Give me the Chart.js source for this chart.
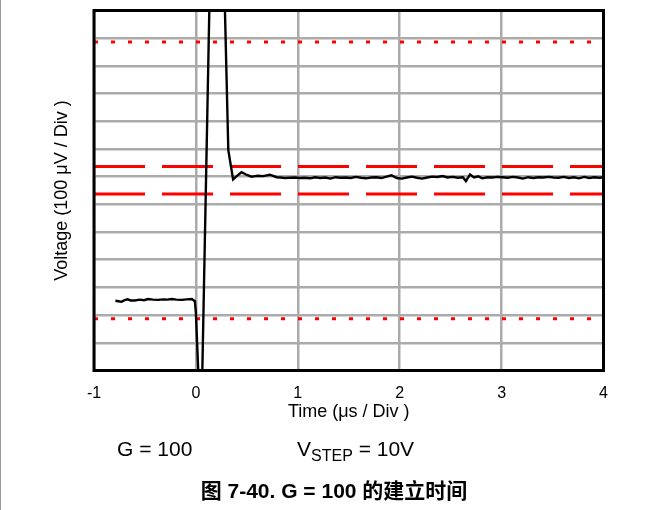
<!DOCTYPE html>
<html>
<head>
<meta charset="utf-8">
<script src="https://cdn.jsdelivr.net/npm/chart.js@4/dist/chart.umd.min.js"></script>
<style>
  html, body { margin: 0; padding: 0; background: #fff; }
  #wrap { position: relative; width: 663px; height: 510px; overflow: hidden; }
  #edge { position: absolute; left: 0; top: 0; width: 1px; height: 510px; background: #9a9a9a; }
  canvas { position: absolute; left: 0; top: 0; }
  .note { position: absolute; font-family: "Liberation Sans", Arial, sans-serif; font-size: 21px; line-height: 21px; color: #000; white-space: pre; }
  .note sub { font-size: 16px; vertical-align: -5px; line-height: 0; }
  #caption { position: absolute; left: 0; width: 668px; text-align: center; top: 480px;
    font-family: "Liberation Sans", "Noto Sans CJK SC", sans-serif; font-weight: bold; font-size: 21px; line-height: 22px; }
</style>
</head>
<body>
<div id="wrap">
  <div id="edge"></div>
  <canvas id="graph_settle" width="663" height="510"></canvas>
  <div class="note" style="left:117px; top:438px;">G = 100</div>
  <div class="note" style="left:297px; top:438px;">V<sub>STEP</sub> = 10V</div>
  <div id="caption">图 7-40. G = 100 的建立时间</div>
</div>
<script>
/*------------------------------*/
/*     SETTLING TIME, G = 100   */
/*------------------------------*/
// time in us, voltage in grid divisions (100 uV / Div) counted from the bottom edge
var signalTime = [-0.79, -0.76, -0.73, -0.70, -0.67, -0.64, -0.60, -0.55, -0.51, -0.47, -0.42, -0.37,
  -0.32, -0.28, -0.24, -0.19, -0.14, -0.09, -0.04, -0.01, 0.00, 0.05, 0.20, 0.318, 0.365, 0.40,
  0.448, 0.50, 0.546, 0.58, 0.608, 0.66, 0.726, 0.792, 0.83, 0.873, 0.92, 0.97, 1.02, 1.07,
  1.12, 1.17, 1.22, 1.27, 1.32, 1.37, 1.42, 1.47, 1.52, 1.57, 1.62, 1.67, 1.72, 1.77, 1.82, 1.87,
  1.92, 1.97, 2.02, 2.07, 2.12, 2.17, 2.22, 2.27, 2.32, 2.37, 2.42, 2.47, 2.52, 2.57, 2.62, 2.65,
  2.69, 2.73, 2.77, 2.81, 2.86, 2.91, 2.96, 3.01, 3.06, 3.11, 3.16, 3.21, 3.26, 3.31, 3.36, 3.41,
  3.46, 3.51, 3.56, 3.61, 3.66, 3.71, 3.76, 3.81, 3.86, 3.91, 3.96, 4.00]
var signalVolt = [2.52, 2.50, 2.48, 2.54, 2.57, 2.53, 2.53, 2.56, 2.54, 2.58, 2.56, 2.55,
  2.57, 2.56, 2.58, 2.56, 2.55, 2.57, 2.58, 2.50, 2.08, -2.5, 26, 7.96, 6.90, 7.02,
  7.16, 7.06, 7.00, 7.02, 7.03, 7.02, 7.07, 6.98, 6.97, 6.95, 6.96, 6.97, 6.95, 6.96,
  6.94, 6.98, 6.95, 6.97, 6.93, 6.98, 6.96, 6.97, 6.95, 6.99, 6.96, 6.94, 6.97, 6.98, 6.95, 7.00,
  7.05, 6.95, 6.93, 6.97, 7.00, 6.96, 6.93, 6.97, 7.00, 6.99, 7.02, 6.97, 6.99, 6.96, 6.98, 6.84,
  7.08, 6.97, 7.01, 6.94, 6.98, 6.97, 6.99, 6.98, 6.96, 6.99, 6.97, 6.93, 6.98, 6.95, 6.98, 6.97,
  6.99, 6.97, 6.96, 6.99, 6.95, 6.98, 6.94, 6.99, 6.95, 6.98, 6.96, 6.98]
var dottedLevels = [11.86, 1.87]   // outer limits
var dashedLevels = [7.37, 6.37]    // settling band
var timeTicks = [-1, 0, 1, 2, 3, 4]

var ctx_settle = document.getElementById('graph_settle').getContext('2d')

function levelLine(level, dash, width) {
    return {
        data: [{x: timeTicks[0], y: level}, {x: timeTicks[timeTicks.length - 1], y: level}],
        borderColor: '#ff0000',
        borderWidth: width,
        borderDash: dash,
        pointRadius: 0,
        order: 2
    }
}

var data_settle = {
    datasets: [
        {
        label: 'Vout',
        data: signalTime.map(function (t, i) { return {x: t, y: signalVolt[i]} }),
        borderColor: '#000000',
        borderWidth: 2.4,
        pointRadius: 0,
        tension: 0,
        order: 1
        },
        levelLine(dottedLevels[0], [4, 13], 3),
        levelLine(dottedLevels[1], [4, 13], 3),
        levelLine(dashedLevels[0], [51, 17], 3),
        levelLine(dashedLevels[1], [51, 17], 3)
    ]
}

var frame = {
    id: 'frame',
    afterDraw: function (chart) {
        var a = chart.chartArea, c = chart.ctx
        c.save()
        c.strokeStyle = '#000'
        c.lineWidth = 3
        c.strokeRect(a.left, a.top, a.right - a.left, a.bottom - a.top)
        c.restore()
    }
}

var config_settle = {
    type: 'line',
    data: data_settle,
    plugins: [frame],
    options: {
      responsive: false,
      animation: false,
      events: [],
      layout: { padding: { left: 0, top: 10.5, right: 59.5, bottom: 79.5 } },
      plugins: { legend: { display: false }, tooltip: { enabled: false } },
      scales: {
        x: {
          type: 'linear',
          min: -1, max: 4,
          afterFit: function (s) { s.height = 60 },
          afterBuildTicks: function (s) { s.ticks = timeTicks.map(function (v) { return {value: v} }) },
          grid: { color: '#ababab', lineWidth: 2.5, drawTicks: false },
          border: { display: false },
          ticks: { color: '#000', padding: 13, font: { family: 'Liberation Sans', size: 16 } },
          title: { display: true, text: 'Time (μs / Div )', color: '#000', padding: { top: 0, bottom: 8 },
                   font: { family: 'Liberation Sans', size: 18 } }
        },
        y: {
          min: 0, max: 13,
          afterFit: function (s) { s.width = 94 },
          ticks: { display: false, stepSize: 1 },
          grid: { color: '#ababab', lineWidth: 2.5, drawTicks: false },
          border: { display: false },
          title: { display: true, text: 'Voltage (100 μV / Div )', color: '#000', padding: { top: 51, bottom: 0 },
                   font: { family: 'Liberation Sans', size: 18 } }
        }
      }
    }
}
var graph_settle = new Chart(ctx_settle, config_settle)
/*------------------------------*/
</script>
</body>
</html>
